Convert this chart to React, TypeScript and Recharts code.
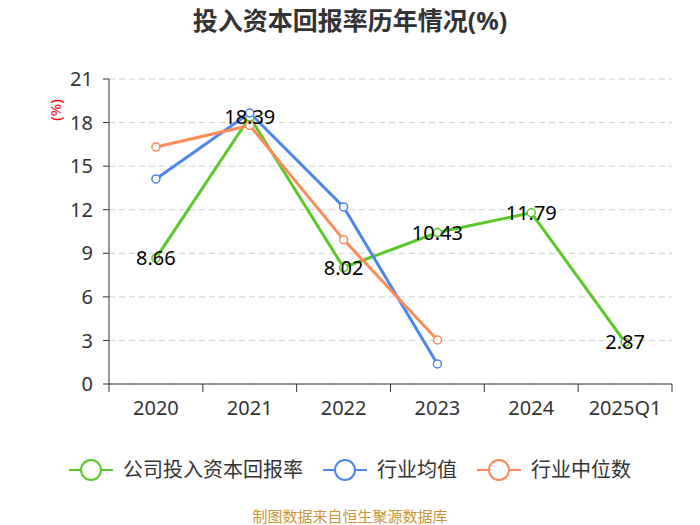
import React from 'react';
import { LineChart, Line, XAxis, YAxis, CartesianGrid, LabelList } from 'recharts';

const years = ['2020', '2021', '2022', '2023', '2024', '2025Q1'];
const companyRoic = [8.66, 18.39, 8.02, 10.43, 11.79, 2.87];
const industryAvg = [14.12, 18.66, 12.19, 1.38, null, null];
const industryMedian = [16.32, 17.8, 9.94, 3.03, null, null];
const yTicks = [0, 3, 6, 9, 12, 15, 18, 21];

const data = years.map((year, i) => ({
  year,
  company: companyRoic[i],
  avg: industryAvg[i],
  median: industryMedian[i],
}));

const GREEN = '#5bc82a';
const BLUE = '#4f86ee';
const ORANGE = '#fd8b5a';
const FONT = '"Noto Sans", "Noto Sans CJK SC", sans-serif';

const CHART_LEFT = 109;
const CHART_RIGHT = 28;
const BAND = (700 - CHART_LEFT - CHART_RIGHT) / years.length;

const XTick = (props: any) => {
  const { x, y, payload, index } = props;
  const left = x - BAND / 2;
  return (
    <g>
      <line x1={left} y1={y - 8} x2={left} y2={y} stroke="#333" strokeWidth={1} />
      {index === years.length - 1 && (
        <line x1={x + BAND / 2} y1={y - 8} x2={x + BAND / 2} y2={y} stroke="#333" strokeWidth={1} />
      )}
      <text x={x} y={y + 23} textAnchor="middle" fill="#333" fontSize={20} fontFamily={FONT}>
        {payload.value}
      </text>
    </g>
  );
};

const LegendItem = ({ color, label, last }: { color: string; label: string; last?: boolean }) => (
  <div style={{ display: 'flex', alignItems: 'center', marginRight: last ? 0 : 20 }}>
    <svg width={44} height={24}>
      <line x1={0} y1={12} x2={44} y2={12} stroke={color} strokeWidth={2} />
      <circle cx={22} cy={12} r={10} fill="#fff" stroke={color} strokeWidth={2} />
    </svg>
    <span style={{ marginLeft: 10, fontSize: 20, color: '#333', lineHeight: '24px' }}>{label}</span>
  </div>
);

export default function App() {
  return (
    <div style={{ position: 'absolute', left: 0, top: 0, width: 700, height: 525, background: '#fff', fontFamily: FONT, overflow: 'hidden' }}>
      <div style={{ position: 'absolute', top: 5, left: 0, width: 700, textAlign: 'center', fontSize: 25, lineHeight: '30px', fontWeight: 'bold', color: '#333' }}>
        投入资本回报率历年情况(%)
      </div>
      <div style={{ position: 'absolute', left: 43, top: 101, width: 24, height: 18, lineHeight: '18px', textAlign: 'center', transform: 'rotate(-90deg)', fontSize: 15, color: '#f00' }}>
        (%)
      </div>
      <LineChart
        width={700}
        height={525}
        data={data}
        margin={{ top: 79, right: CHART_RIGHT, left: 49, bottom: 111 }}
      >
        <CartesianGrid horizontal vertical={false} stroke="#d0d0d0" strokeDasharray="6 4" />
        <XAxis
          dataKey="year"
          stroke="#333"
          tickLine={false}
          tickSize={8}
          tickMargin={0}
          tick={<XTick />}
          height={30}
          interval={0}
          padding={{ left: BAND / 2, right: BAND / 2 }}
        />
        <YAxis
          width={60}
          domain={[0, 21]}
          ticks={yTicks}
          stroke="#333"
          tick={{ fill: '#333', fontSize: 20, fontFamily: FONT }}
          tickSize={6}
          tickMargin={10}
          interval={0}
        />
        <Line
          dataKey="company"
          stroke={GREEN}
          strokeWidth={3}
          dot={{ r: 4, fill: '#fff', stroke: GREEN, strokeWidth: 1.5 }}
          isAnimationActive={false}
        >
          <LabelList dataKey="company" position="center" fill="#000" fontSize={20} fontFamily={FONT} />
        </Line>
        <Line
          dataKey="avg"
          stroke={BLUE}
          strokeWidth={3}
          dot={{ r: 4, fill: '#fff', stroke: BLUE, strokeWidth: 1.5 }}
          isAnimationActive={false}
        />
        <Line
          dataKey="median"
          stroke={ORANGE}
          strokeWidth={3}
          dot={{ r: 4, fill: '#fff', stroke: ORANGE, strokeWidth: 1.5 }}
          isAnimationActive={false}
        />
      </LineChart>
      <div style={{ position: 'absolute', top: 458, left: 0, width: 700, display: 'flex', justifyContent: 'center' }}>
        <LegendItem color={GREEN} label="公司投入资本回报率" />
        <LegendItem color={BLUE} label="行业均值" />
        <LegendItem color={ORANGE} label="行业中位数" last />
      </div>
      <div style={{ position: 'absolute', top: 507, left: 0, width: 700, textAlign: 'center', fontSize: 15, lineHeight: '18px', color: '#c8963c' }}>
        制图数据来自恒生聚源数据库
      </div>
    </div>
  );
}
